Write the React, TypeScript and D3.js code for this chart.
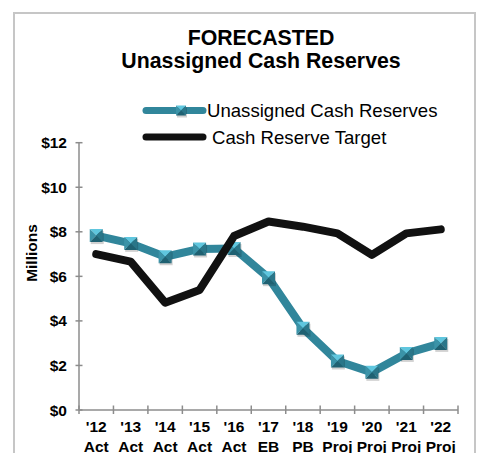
import * as d3 from 'd3';

// categories (two-line tick labels)
const years = ["'12", "'13", "'14", "'15", "'16", "'17", "'18", "'19", "'20", "'21", "'22"];
const phases = ['Act', 'Act', 'Act', 'Act', 'Act', 'EB', 'PB', 'Proj', 'Proj', 'Proj', 'Proj'];

// series values, $ millions
const unassigned = [7.83, 7.48, 6.88, 7.23, 7.25, 5.94, 3.67, 2.2, 1.69, 2.54, 2.99];
const target = [7.0, 6.66, 4.82, 5.39, 7.81, 8.46, 8.23, 7.93, 6.96, 7.93, 8.11];

const yTicks = [0, 2, 4, 6, 8, 10, 12];

const W = 481;
const H = 453;
const FONT = '"Liberation Sans", Arial, sans-serif';
const TEAL = '#31869b';

function Marker({ cx, cy, s }: { cx: number; cy: number; s: number }) {
  const h = s / 2;
  const x0 = cx - h, x1 = cx + h, y0 = cy - h, y1 = cy + h;
  const c = `${cx},${cy}`;
  return (
    <g>
      <rect x={x0 + 1} y={y0 + 2} width={s} height={s} fill="#000" opacity={0.18} />
      <polygon points={`${x0},${y0} ${x1},${y0} ${c}`} fill="#5fc6de" />
      <polygon points={`${x1},${y0} ${x1},${y1} ${c}`} fill="#2a7689" />
      <polygon points={`${x0},${y1} ${x1},${y1} ${c}`} fill="#1f6172" />
      <polygon points={`${x0},${y0} ${x0},${y1} ${c}`} fill="#3b93a8" />
    </g>
  );
}

export default function App() {
  const x = d3.scaleBand<string>().domain(years).range([79, 458]);
  const y = d3.scaleLinear().domain([0, 12]).range([410, 142.7]);
  const cx = (i: number) => (x(years[i]) ?? 0) + x.bandwidth() / 2;

  const line = d3
    .line<number>()
    .x((_, i) => cx(i))
    .y(d => y(d));

  const bounds = years.map(yr => x(yr) ?? 0).concat([x.range()[1]]);

  return (
    <div style={{ position: 'fixed', left: 0, top: 0 }}>
      <svg width={W} height={H} style={{ display: 'block', fontFamily: FONT }}>
        <rect width={W} height={H} fill="#fff" />
        {/* chart frame */}
        <rect x={14} y={13} width={461} height={470} fill="none" stroke="#c6c6c6" strokeWidth={2} />

        {/* title */}
        <text x={261} y={45} textAnchor="middle" fontWeight="bold" fontSize={21.3} fill="#000">
          FORECASTED
        </text>
        <text x={261} y={68} textAnchor="middle" fontWeight="bold" fontSize={21.3} fill="#000">
          Unassigned Cash Reserves
        </text>

        {/* legend */}
        <line x1={146} x2={203} y1={110.5} y2={110.5} stroke={TEAL} strokeWidth={7} strokeLinecap="round" />
        <Marker cx={181} cy={110.5} s={10} />
        <text x={207} y={117} fontSize={18.6} fill="#000">Unassigned Cash Reserves</text>
        <line x1={146} x2={203} y1={137} y2={137} stroke="#111" strokeWidth={7} strokeLinecap="round" />
        <text x={212} y={143.5} fontSize={18.6} fill="#000">Cash Reserve Target</text>

        {/* y axis */}
        <line x1={79} x2={79} y1={y(12)} y2={y(0)} stroke="#8c8c8c" strokeWidth={1.5} />
        {yTicks.map(t => (
          <g key={t}>
            <line x1={75.5} x2={82.5} y1={y(t)} y2={y(t)} stroke="#8c8c8c" strokeWidth={1.5} />
            <text x={67} y={y(t)} dy="0.36em" textAnchor="end" fontWeight="bold" fontSize={15.5} fill="#000">
              {`$${t}`}
            </text>
          </g>
        ))}
        <text
          transform="translate(31,253) rotate(-90)"
          textAnchor="middle"
          dy="0.36em"
          fontWeight="bold"
          fontSize={15.5}
          fill="#000"
        >
          Millions
        </text>

        {/* x axis */}
        <line x1={79} x2={458} y1={y(0)} y2={y(0)} stroke="#8c8c8c" strokeWidth={1.5} />
        {bounds.map((b, i) => (
          <line key={i} x1={b} x2={b} y1={405.5} y2={414} stroke="#8c8c8c" strokeWidth={1.5} />
        ))}
        {years.map((yr, i) => (
          <g key={yr} fontWeight="bold" fontSize={15.5} fill="#000">
            <text x={cx(i)} y={432} textAnchor="middle">{yr}</text>
            <text x={cx(i)} y={451.5} textAnchor="middle">{phases[i]}</text>
          </g>
        ))}

        {/* series */}
        <path d={line(unassigned) ?? ''} fill="none" stroke={TEAL} strokeWidth={8} strokeLinejoin="round" />
        {unassigned.map((v, i) => (
          <Marker key={i} cx={cx(i)} cy={y(v)} s={13} />
        ))}
        <path d={line(target) ?? ''} fill="none" stroke="#111" strokeWidth={8} strokeLinejoin="round" strokeLinecap="round" />
      </svg>
    </div>
  );
}
